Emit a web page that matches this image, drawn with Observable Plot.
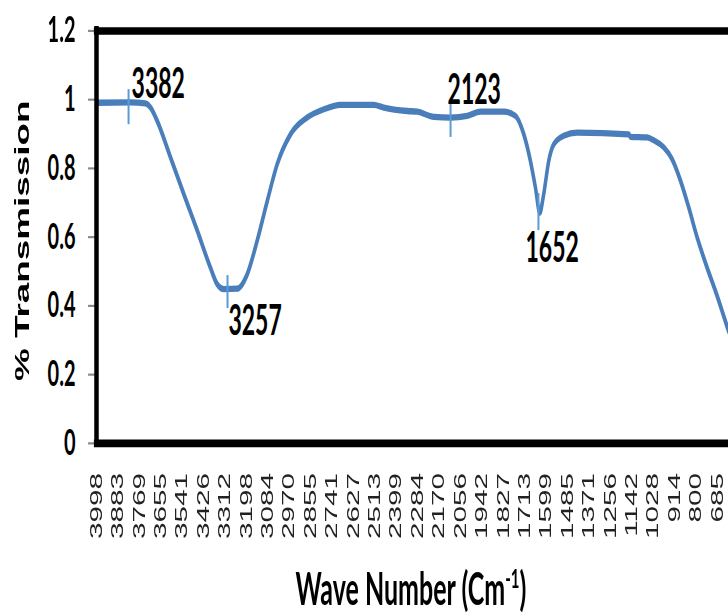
<!DOCTYPE html>
<html>
<head>
<meta charset="utf-8">
<script src="https://cdn.jsdelivr.net/npm/d3@7"></script>
<script src="https://cdn.jsdelivr.net/npm/@observablehq/plot@0.6"></script>
<style>
  html, body { margin: 0; padding: 0; background: #fff; }
  #page { width: 728px; height: 616px; position: relative; overflow: hidden; }
  #wrap { position: absolute; left: 0; top: 0; width: 728px; height: 342.2px; transform: scaleY(1.8); transform-origin: 0 0; }
  #xtitle { position: absolute; left: 411px; top: 312px; transform: translateX(-50%);
            font-family: Lato, sans-serif; font-weight: bold; font-size: 25px; line-height: 28px;
            white-space: nowrap; color: #000; }
  #xtitle sup { font-size: 0.6em; line-height: 0; }
</style>
</head>
<body>
<div id="page">
<div id="wrap">
  <div id="chart"></div>
  <div id="xtitle">Wave Number (Cm<sup>-1</sup>)</div>
</div>
</div>
<script>
// FTIR spectrum (x = wave number on the chart's axis, y = transmission)
const waveNumber = [3998, 3817, 3737, 3710, 3674, 3603, 3532, 3461, 3390, 3354, 3319, 3247, 3194, 3141, 3087, 3034,
  2963, 2874, 2785, 2696, 2519, 2465, 2340, 2287, 2198, 2109, 2020, 1949, 1825, 1763, 1718, 1683, 1656, 1633,
  1612, 1585, 1558, 1505, 1434, 1158, 1149, 1060, 1025, 971, 927, 882, 838, 793, 740, 696, 660, 626];
const transmission = [0.991, 0.992, 0.989, 0.977, 0.938, 0.832, 0.725, 0.620, 0.511, 0.463, 0.449, 0.450, 0.492, 0.589, 0.705, 0.812,
  0.899, 0.948, 0.972, 0.985, 0.985, 0.977, 0.967, 0.965, 0.950, 0.948, 0.953, 0.965, 0.965, 0.953, 0.899, 0.822, 0.744, 0.671,
  0.725, 0.822, 0.870, 0.895, 0.904, 0.899, 0.892, 0.890, 0.882, 0.861, 0.827, 0.764, 0.686, 0.599, 0.511, 0.444, 0.385, 0.327];

const xTickLabels = [3998, 3883, 3769, 3655, 3541, 3426, 3312, 3198, 3084, 2970, 2855, 2741, 2627, 2513, 2399,
  2284, 2170, 2056, 1942, 1827, 1713, 1599, 1485, 1371, 1256, 1142, 1028, 914, 800, 685];
const yTicks = [0, 0.2, 0.4, 0.6, 0.8, 1, 1.2];
const yTickLabels = ["0", "0.2", "0.4", "0.6", "0.8", "1", "1.2"];

// peak annotations (marker position on the axis, marker span, label anchor)
const peakLabels = ["3382", "3257", "2123", "1652"];
const peakX = [3827, 3299, 2109, 1640];
const peakYTop = [1.028, 0.487, 0.988, 0.726];
const peakYBottom = [0.926, 0.391, 0.889, 0.618];
const labelX = [3811, 3294, 2125, 1709];
const labelY = [1.043, 0.353, 1.025, 0.566];

const yTitle = "% Transmission";

const data = waveNumber.map((w, i) => ({w, t: transmission[i]}));
const peaks = peakLabels.map((l, i) => ({l, x: peakX[i], y1: peakYTop[i], y2: peakYBottom[i], lx: labelX[i], ly: labelY[i]}));

const chart = Plot.plot({
  width: 728,
  height: 305,
  marginTop: 16.67,
  marginBottom: 59.17,
  marginLeft: 96,
  marginRight: 0,
  x: {domain: [3998, 626], axis: null},
  y: {domain: [0, 1.2], axis: null},
  style: {background: "white", overflow: "visible"},
  marks: [
    Plot.axisY({
      ticks: yTicks,
      tickFormat: d => yTickLabels[yTicks.indexOf(d)],
      tickSize: 8, tickPadding: 13,
      stroke: "#8a8a8a", strokeWidth: 1.2,
      fill: "#000", fontSize: 20, fontFamily: "Lato", fontWeight: "bold",
      label: null
    }),
    Plot.text(xTickLabels, {
      x: d => d, frameAnchor: "bottom", text: d => String(d),
      rotate: -90, textAnchor: "end", lineAnchor: "middle", dy: 16.4,
      fontFamily: "Liberation Sans", fontSize: 16.5, fill: "#222"
    }),
    Plot.text([yTitle], {
      text: d => d, frameAnchor: "left", rotate: -90, dx: -74, dy: 2,
      textAnchor: "middle", lineAnchor: "middle",
      fontFamily: "Liberation Sans", fontWeight: "bold", fontSize: 20.5, fill: "#000"
    }),
    Plot.line(data, {x: "w", y: "t", stroke: "#4a7ebb", strokeWidth: 3.5, curve: "monotone-x", clip: true}),
    Plot.ruleX(peaks, {x: "x", y1: "y1", y2: "y2", stroke: "#5b9bd5", strokeWidth: 2}),
    Plot.text(peaks, {
      x: "lx", y: "ly", text: "l", textAnchor: "start", lineAnchor: "middle",
      fontFamily: "Lato", fontWeight: "bold", fontSize: 23, fill: "#000"
    }),
    Plot.ruleY([0, 1.2], {stroke: "#000", strokeWidth: 4.2, strokeLinecap: "square"}),
    Plot.ruleX([3998], {stroke: "#000", strokeWidth: 4.5, strokeLinecap: "square"})
  ]
});
document.getElementById("chart").appendChild(chart);
</script>
</body>
</html>
